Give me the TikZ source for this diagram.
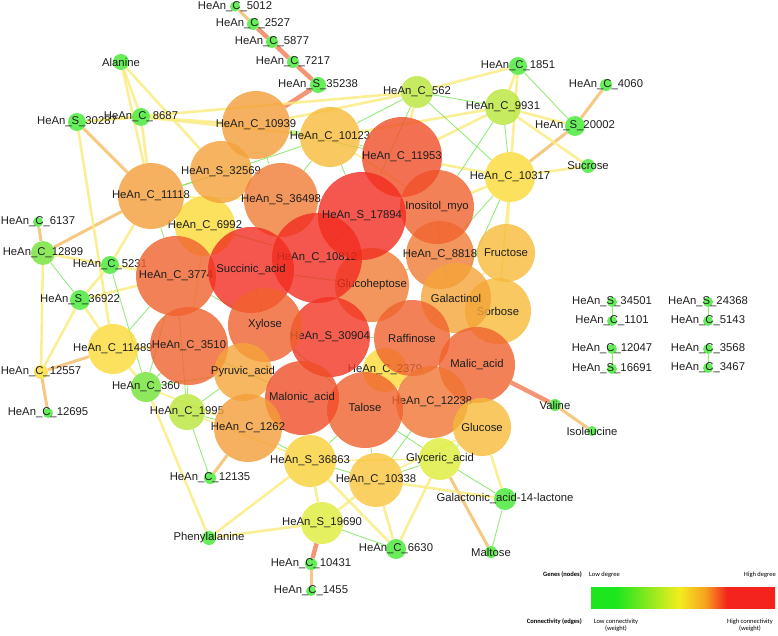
\documentclass[tikz,border=0pt]{standalone}
\usepackage{fontspec}
\setmainfont{Liberation Sans}
\newfontfamily\legendfont{Carlito}
\usepackage{tikz}
\usetikzlibrary{backgrounds}
% node colours (degree)
\definecolor{nodegreen}{RGB}{64,232,48}
\definecolor{nodelime}{RGB}{112,228,50}
\definecolor{nodeyg}{RGB}{184,230,58}
\definecolor{nodepaleyg}{RGB}{222,236,58}
\definecolor{nodeyellow}{RGB}{250,218,54}
\definecolor{nodelightorange}{RGB}{247,186,58}
\definecolor{nodeorange}{RGB}{244,158,56}
\definecolor{nodedarkorange}{RGB}{240,124,52}
\definecolor{nodeorangered}{RGB}{240,98,46}
\definecolor{noderedorange}{RGB}{240,78,40}
\definecolor{nodered}{RGB}{242,44,32}
% edge colours (weight)
\definecolor{edgeyellow}{RGB}{250,236,130}
\definecolor{edgegreen}{RGB}{130,232,100}
\definecolor{edgeorange}{RGB}{246,200,130}
\definecolor{edgesalmon}{RGB}{242,150,118}
\definecolor{labeltext}{RGB}{30,30,30}
\definecolor{bargreen}{RGB}{30,230,30}
\definecolor{baryellow}{RGB}{244,236,30}
\definecolor{barorange}{RGB}{247,162,30}
\definecolor{barred}{RGB}{244,35,30}
\pgfdeclarehorizontalshading{degreebar}{100bp}{color(0bp)=(bargreen); color(32bp)=(bargreen); color(49bp)=(baryellow); color(56bp)=(barorange); color(62bp)=(barred); color(100bp)=(barred)}

\begin{document}
\begin{tikzpicture}[
    x=1pt, y=-1pt,
    gene/.style={circle, inner sep=0pt, minimum size=#1, fill opacity=0.8},
    leaf/.style={gene=#1, fill=nodegreen},
    every label/.style={font=\fontsize{11.3}{13}\selectfont, text=labeltext, text opacity=1, inner sep=0pt},
    yedge/.style={draw=edgeyellow, line width=2.6pt, draw opacity=0.85},
    gedge/.style={draw=edgegreen, line width=0.9pt, draw opacity=0.85},
    oedge/.style={draw=edgeorange, line width=3pt},
    sedge/.style={draw=edgesalmon, line width=4.5pt},
    legend/.style={font=\legendfont\fontsize{6.5}{7.5}\selectfont, inner sep=0pt}
]
\useasboundingbox (0,0) rectangle (778,636);

% small nodes
\node[leaf=10, label={center:HeAn\_C\_5012}] (c5012) at (235,6.5) {};
\node[leaf=12, label={center:HeAn\_C\_2527}] (c2527) at (253,24) {};
\node[leaf=12, label={center:HeAn\_C\_5877}] (c5877) at (272,42) {};
\node[leaf=12, label={center:HeAn\_C\_7217}] (c7217) at (293,62) {};
\node[leaf=16, label={center:HeAn\_S\_35238}] (s35238) at (318,85) {};
\node[leaf=16, label={center:Alanine}] (alanine) at (121,62) {};
\node[leaf=18, label={center:HeAn\_C\_8687}] (c8687) at (141,117) {};
\node[leaf=18, label={center:HeAn\_S\_30287}] (s30287) at (77,122) {};
\node[leaf=18, label={center:HeAn\_C\_1851}] (c1851) at (518,66) {};
\node[leaf=12, label={center:HeAn\_C\_4060}] (c4060) at (606,85) {};
\node[leaf=20, label={center:HeAn\_S\_20002}] (s20002) at (575,126) {};
\node[leaf=14, label={center:Sucrose}] (sucrose) at (588,166) {};
\node[leaf=10, label={center:HeAn\_C\_6137}] (c6137) at (38,222) {};
\node[gene=24, fill=nodelime, label={center:HeAn\_C\_12899}] (c12899) at (43,253) {};
\node[leaf=18, label={center:HeAn\_C\_5231}] (c5231) at (110,265) {};
\node[leaf=20, label={center:HeAn\_S\_36922}] (s36922) at (80,300) {};
\node[gene=14, fill=nodeyellow, label={center:HeAn\_C\_12557}] (c12557) at (41,372) {};
\node[leaf=10, label={center:HeAn\_C\_12695}] (c12695) at (48,413) {};
\node[leaf=12, label={center:HeAn\_C\_12135}] (c12135) at (210,478) {};
\node[leaf=14, label={center:Phenylalanine}] (phenylalanine) at (209,538) {};
\node[leaf=12, label={center:HeAn\_C\_10431}] (c10431) at (311,564) {};
\node[leaf=10, label={center:HeAn\_C\_1455}] (c1455) at (311,591) {};
\node[leaf=20, label={center:HeAn\_C\_6630}] (c6630) at (396,549) {};
\node[leaf=22, label={center:Galactonic\_acid-14-lactone}] (galactonic) at (505,499) {};
\node[leaf=12, label={center:Maltose}] (maltose) at (491,552) {};
\node[leaf=12, label={center:Valine}] (valine) at (555,405) {};
\node[leaf=10, label={center:Isoleucine}] (isoleucine) at (592,431) {};
\node[leaf=10, label={center:HeAn\_S\_34501}] (s34501) at (612,302) {};
\node[leaf=10, label={center:HeAn\_C\_1101}] (c1101) at (612,321) {};
\node[leaf=10, label={center:HeAn\_S\_24368}] (s24368) at (708,302) {};
\node[leaf=10, label={center:HeAn\_C\_5143}] (c5143) at (708,321) {};
\node[leaf=10, label={center:HeAn\_C\_12047}] (c12047) at (612,349) {};
\node[leaf=10, label={center:HeAn\_S\_16691}] (s16691) at (612,369) {};
\node[leaf=10, label={center:HeAn\_C\_3568}] (c3568) at (708,349) {};
\node[leaf=10, label={center:HeAn\_C\_3467}] (c3467) at (708,368) {};

% hubs
\node[gene=60, fill=nodelightorange, label={center:HeAn\_C\_10123}] (c10123) at (330,137) {};
\node[gene=68, fill=nodeorange, label={center:HeAn\_C\_10939}] (c10939) at (256,125) {};
\node[gene=60, fill=nodeyellow, label={center:HeAn\_C\_6992}] (c6992) at (205,226) {};
\node[gene=62, fill=nodeorange!90!nodelightorange, label={center:HeAn\_S\_32569}] (s32569) at (221,172) {};
\node[gene=66, fill=nodeorange, label={center:HeAn\_C\_11118}] (c11118) at (151,196) {};
\node[gene=74, fill=nodedarkorange, label={center:HeAn\_S\_36498}] (s36498) at (281,200) {};
\node[gene=50, fill=nodeyellow, label={center:HeAn\_C\_10317}] (c10317) at (510,177) {};
\node[gene=32, fill=nodeyg, label={center:HeAn\_C\_562}] (c562) at (417,92) {};
\node[gene=36, fill=nodeyg, label={center:HeAn\_C\_9931}] (c9931) at (503,107) {};
\node[gene=50, fill=nodeyellow, label={center:HeAn\_C\_11489}] (c11489) at (113,349) {};
\node[gene=80, fill=nodeorangered, label={center:HeAn\_C\_3774}] (c3774) at (176,276) {};
\node[gene=44, fill=nodeyellow, label={center:HeAn\_C\_2379}] (c2379) at (385,370) {};
\node[gene=36, fill=nodeyg, label={center:HeAn\_C\_1995}] (c1995) at (187,412) {};
\node[gene=30, fill=nodelime, label={center:HeAn\_C\_360}] (c360) at (146,387) {};
\node[gene=68, fill=nodedarkorange, label={center:HeAn\_C\_8818}] (c8818) at (440,255) {};
\node[gene=74, fill=nodedarkorange, label={center:Glucoheptose}] (glucoheptose) at (372,285) {};
\node[gene=90, fill=nodered, label={center:HeAn\_C\_10812}] (c10812) at (317,258) {};
\node[gene=74, fill=nodeorangered, label={center:Inositol\_myo}] (inositol) at (437,207) {};
\node[gene=80, fill=noderedorange, label={center:HeAn\_C\_11953}] (c11953) at (402,157) {};
\node[gene=88, fill=nodered, label={center:HeAn\_S\_17894}] (s17894) at (362,216) {};
\node[gene=86, fill=nodered, label={center:Succinic\_acid}] (succinic) at (251,270) {};
\node[gene=66, fill=nodelightorange, label={center:Sorbose}] (sorbose) at (498,311) {};
\node[gene=58, fill=nodelightorange, label={center:Fructose}] (fructose) at (506,253) {};
\node[gene=70, fill=nodeorange!80!nodelightorange, label={center:Galactinol}] (galactinol) at (456,298) {};
\node[gene=80, fill=nodered!85!nodeorangered, label={center:HeAn\_S\_30904}] (s30904) at (330,337) {};
\node[gene=74, fill=nodeorangered, label={center:Xylose}] (xylose) at (265,325) {};
\node[gene=78, fill=nodeorangered, label={center:HeAn\_C\_3510}] (c3510) at (189,346) {};
\node[gene=58, fill=nodeorange!80!nodelightorange, label={center:Pyruvic\_acid}] (pyruvic) at (243,372) {};
\node[gene=76, fill=nodeorangered, label={center:Raffinose}] (raffinose) at (412,338) {};
\node[gene=76, fill=nodeorangered, label={center:Malic\_acid}] (malic) at (477,365) {};
\node[gene=72, fill=nodedarkorange!70!nodeorangered, label={center:HeAn\_C\_12238}] (c12238) at (432,402) {};
\node[gene=76, fill=nodeorangered, label={[yshift=3pt]center:Talose}] (talose) at (365,410) {};
\node[gene=74, fill=noderedorange, label={center:Malonic\_acid}] (malonic) at (302,398) {};
\node[gene=68, fill=nodeorange, label={center:HeAn\_C\_1262}] (c1262) at (248,428) {};
\node[gene=58, fill=nodelightorange, label={center:Glucose}] (glucose) at (482,427) {};
\node[gene=42, fill=nodepaleyg, label={center:Glyceric\_acid}] (glyceric) at (440,459) {};
\node[gene=52, fill=nodeyellow!70!nodelightorange, label={center:HeAn\_S\_36863}] (s36863) at (310,461) {};
\node[gene=54, fill=nodelightorange!70!nodeyellow, label={center:HeAn\_C\_10338}] (c10338) at (376,480) {};
\node[gene=42, fill=nodepaleyg, label={center:HeAn\_S\_19690}] (s19690) at (322,523) {};

\begin{pgfonlayer}{background}
% outer edges
\draw[oedge] (c5012) -- (c2527);
\foreach \a/\b in {c2527/c5877, c5877/c7217, c7217/s35238, s35238/c10939, s19690/c10431, malic/valine}
  \draw[sedge] (\a) -- (\b);
\foreach \a/\b in {s30287/c11118, s20002/c4060, s20002/c10317, c6137/c12899, c12899/c11118,
    c12557/c12695, c12557/c11489, c12135/c1262, c10431/c1455, glyceric/maltose, valine/isoleucine}
  \draw[oedge] (\a) -- (\b);
\foreach \a/\b in {alanine/c11118, alanine/s32569, alanine/c8687, s30287/c8687, s30287/c11489, s30287/c562,
    c8687/c10939, c8687/c11118, c8687/c10123, c562/c1851, c562/c10939, c562/c11953,
    c9931/c1851, c9931/s20002, c9931/sucrose, c9931/c10123, c9931/c11953, c1851/c10317,
    sucrose/c10317, c10317/c11953, c10317/fructose, c10317/inositol,
    c12899/c12557, c12899/c5231, c5231/c11118, c5231/s36922, c5231/c3774,
    s36922/c11489, s36922/c12557, s36922/c3774, c11489/c360, c11489/c3510, c360/phenylalanine,
    phenylalanine/s19690, phenylalanine/s36863, s19690/s36863, s19690/c10338,
    c6630/c10338, c6630/glyceric, c6630/s36863, glucose/galactonic, c10338/galactonic}
  \draw[yedge] (\a) -- (\b);
\foreach \a/\b in {c562/c9931, c562/c10317, c9931/c10317, c1851/s20002, c12899/s36922, c5231/c360,
    c1995/c12135, s19690/c6630, glyceric/galactonic, galactonic/maltose,
    s34501/c1101, s24368/c5143, c12047/s16691, c3568/c3467}
  \draw[gedge] (\a) -- (\b);
% edges in the core
\foreach \a/\b in {c10939/c10123, c10939/s32569, c10939/s36498, c10939/c11953, c10123/c11953,
    c10123/s36498, c10123/s17894, s32569/c6992, s32569/c11118, c11118/c6992, c11118/c3774,
    c6992/c3774, c6992/succinic, s36498/succinic, s36498/c10812, s17894/c10812, s17894/inositol,
    c11953/inositol, inositol/c8818, c8818/fructose, c8818/galactinol, fructose/sorbose,
    galactinol/sorbose, galactinol/raffinose, sorbose/malic, raffinose/malic, raffinose/c12238,
    malic/glucose, c12238/glucose, c12238/glyceric, talose/glyceric, talose/c10338, talose/s36863,
    malonic/s36863, malonic/c1262, c1262/pyruvic, pyruvic/c3510, c3510/c1995, c3510/c360,
    c3774/c360, c3774/c1995, c11489/c3774, xylose/s30904, xylose/succinic, s30904/raffinose,
    s30904/c2379, c2379/talose, c2379/c12238, glucoheptose/raffinose, glucoheptose/c10812,
    glucoheptose/c8818, c1995/pyruvic, c1995/c1262, c360/pyruvic, c1262/s36863,
    s36863/c10338, c10338/glyceric, glyceric/glucose, c10338/c12238, c10317/c8818,
    c10317/galactinol, c9931/inositol, c562/s17894, c10123/c562, c11118/c10123,
    c6992/c10812, c3774/xylose, c3510/malonic, xylose/talose, succinic/glucoheptose}
  \draw[gedge] (\a) -- (\b);
\foreach \a/\b in {c11118/s36498, c6992/c3510, c1995/s36863, c360/c1262, c10317/sorbose,
    fructose/galactinol, glucose/c10338, s36863/glyceric, c10123/inositol}
  \draw[yedge, line width=1.6pt] (\a) -- (\b);
\end{pgfonlayer}

% legend
\node[legend, anchor=east, font=\legendfont\bfseries\fontsize{6.5}{7.5}\selectfont] (genes) at (582,575) {Genes (nodes)};
\node[legend, anchor=west] (lowdeg) at (589,575) {Low degree};
\node[legend, anchor=east] (highdeg) at (776,575) {High degree};
\node[shading=degreebar, minimum width=184pt, minimum height=21pt, inner sep=0pt] (bar) at (683,597.5) {};
\node[legend, anchor=east, font=\legendfont\bfseries\fontsize{6.5}{7.5}\selectfont] (conn) at (582,622) {Connectivity (edges)};
\node[legend, align=center, anchor=north] (lowconn) at (616,618.5) {Low connectivity\\(weight)};
\node[legend, align=center, anchor=north] (highconn) at (750,618.5) {High connectivity\\(weight)};
\end{tikzpicture}
\end{document}
